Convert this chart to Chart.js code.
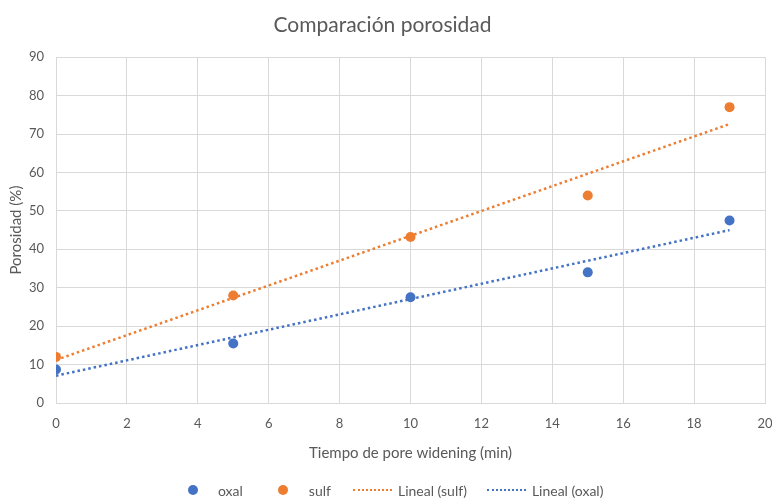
<!DOCTYPE html>
<html lang="es">
<head>
<meta charset="utf-8">
<title>Comparación porosidad</title>
<script src="https://cdn.jsdelivr.net/npm/chart.js@4.4.1/dist/chart.umd.min.js"></script>
<style>
  html, body { margin: 0; padding: 0; background: #ffffff; }
  #wrap { position: relative; width: 772px; height: 498px; }
  #legend {
    position: absolute; left: 188px; top: 481px; height: 18px;
    display: flex; align-items: center;
    font-family: Lato, "Open Sans", sans-serif; font-size: 14px; color: #595959;
  }
  .item { display: flex; align-items: center; }
  .dot { width: 10px; height: 10px; border-radius: 50%; }
  .dash { width: 39px; height: 0; border-top: 2.5px dotted; }
</style>
</head>
<body>
<div id="wrap">
  <canvas id="chart" width="772" height="498"></canvas>
  <div id="legend"></div>
</div>
<script>
// Tiempo de pore widening (min)
const tiempo = [0, 5, 10, 15, 19];
// Porosidad (%) por tratamiento
const oxal = [8.7, 15.5, 27.5, 34.0, 47.5];
const sulf = [12.0, 28.0, 43.2, 54.0, 77.0];
// Líneas de tendencia lineal: extremos en t = 0 y t = 19
const trendX = [0, 19];
const linealSulf = [11.2, 72.6];
const linealOxal = [7.1, 45.0];

const AZUL = '#4472C4';
const NARANJA = '#ED7D31';
const TEXTO = '#595959';
const REJILLA = '#D9D9D9';
const FUENTE = 'Lato, "Open Sans", sans-serif';

const pares = (xs, ys) => xs.map((x, i) => ({ x: x, y: ys[i] }));

const datasets = [
  {
    label: 'oxal', data: pares(tiempo, oxal), showLine: false,
    backgroundColor: AZUL, borderColor: AZUL, pointRadius: 5, pointHoverRadius: 5,
    pointBorderWidth: 0, order: 0
  },
  {
    label: 'sulf', data: pares(tiempo, sulf), showLine: false,
    backgroundColor: NARANJA, borderColor: NARANJA, pointRadius: 5, pointHoverRadius: 5,
    pointBorderWidth: 0, order: 0
  },
  {
    label: 'Lineal (sulf)', data: pares(trendX, linealSulf), showLine: true,
    borderColor: NARANJA, borderWidth: 2.5, borderDash: [2.5, 3], pointRadius: 0,
    borderCapStyle: 'butt', order: 1
  },
  {
    label: 'Lineal (oxal)', data: pares(trendX, linealOxal), showLine: true,
    borderColor: AZUL, borderWidth: 2.5, borderDash: [2.5, 3], pointRadius: 0,
    borderCapStyle: 'butt', order: 1
  }
];

new Chart(document.getElementById('chart'), {
  type: 'scatter',
  data: { datasets: datasets },
  options: {
    responsive: false,
    animation: false,
    layout: { padding: { left: 0, right: 7, top: 0, bottom: 35 } },
    plugins: {
      legend: { display: false },
      tooltip: { enabled: false },
      title: {
        display: true,
        text: 'Comparación porosidad',
        color: TEXTO,
        font: { family: FUENTE, size: 21, weight: 'normal' },
        padding: { top: 13, bottom: 19 }
      }
    },
    scales: {
      x: {
        type: 'linear', min: 0, max: 20,
        ticks: { stepSize: 2, color: TEXTO, font: { family: FUENTE, size: 13 }, padding: 13 },
        grid: { color: REJILLA, lineWidth: 1, drawTicks: false },
        border: { color: REJILLA },
        title: {
          display: true, text: 'Tiempo de pore widening (min)', color: TEXTO,
          font: { family: FUENTE, size: 15 }, padding: { top: 0, bottom: 1 }
        },
        afterFit: (s) => { s.height = 60; s.paddingRight = 7; }
      },
      y: {
        type: 'linear', min: 0, max: 90,
        ticks: { stepSize: 10, color: TEXTO, font: { family: FUENTE, size: 13 }, padding: 12 },
        grid: { color: REJILLA, lineWidth: 1, drawTicks: false },
        border: { color: REJILLA },
        title: {
          display: true, text: 'Porosidad (%)', color: TEXTO,
          font: { family: FUENTE, size: 15 }, padding: { top: 7.5, bottom: 0 }
        },
        afterFit: (s) => { s.width = 56; }
      }
    }
  }
});

// Leyenda inferior
const leyenda = document.getElementById('legend');
const estilos = [
  { tipo: 'dot', gap: 20, after: 35 },
  { tipo: 'dot', gap: 21, after: 22 },
  { tipo: 'dash', gap: 6, after: 20 },
  { tipo: 'dash', gap: 6, after: 0 }
];
datasets.forEach((ds, i) => {
  const st = estilos[i];
  const item = document.createElement('div');
  item.className = 'item';
  item.style.marginRight = st.after + 'px';
  const marca = document.createElement('span');
  marca.className = st.tipo;
  if (st.tipo === 'dot') marca.style.background = ds.backgroundColor;
  else marca.style.borderTopColor = ds.borderColor;
  marca.style.marginRight = st.gap + 'px';
  const txt = document.createElement('span');
  txt.textContent = ds.label;
  item.appendChild(marca);
  item.appendChild(txt);
  leyenda.appendChild(item);
});
</script>
</body>
</html>
